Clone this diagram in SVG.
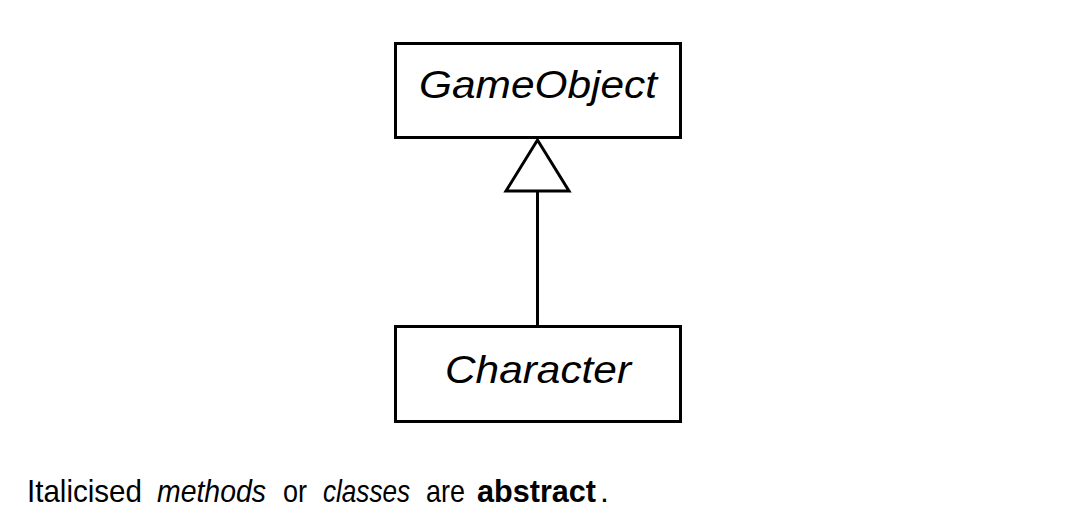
<svg xmlns="http://www.w3.org/2000/svg" width="1072" height="522" viewBox="0 0 1072 522">
<style>
.box{fill:#fff;stroke:#000;stroke-width:3}
.lbl{font-family:"Liberation Sans",Arial,sans-serif;font-size:39px;font-style:italic;fill:#000}
.note{font-family:"Liberation Sans",Arial,sans-serif;font-size:32px;fill:#000}
.edge{stroke:#000;stroke-width:3;fill:none}
.head{fill:#fff;stroke:#000;stroke-width:3}
</style>
<rect width="1072" height="522" fill="#fff"/>
<g id="connectors">
<line class="edge" x1="537.5" y1="191" x2="537.5" y2="326"/>
<polygon class="head" points="537.5,140 506,191 569,191"/>
</g>
<g id="GameObject">
<rect class="box" x="395.5" y="43.5" width="285" height="94"/>
<text class="lbl" x="419" y="98" textLength="238" lengthAdjust="spacingAndGlyphs">GameObject</text>
</g>
<g id="Character">
<rect class="box" x="395.5" y="326.5" width="285" height="95"/>
<text class="lbl" x="445" y="383" textLength="186" lengthAdjust="spacingAndGlyphs">Character</text>
</g>
<text class="note" y="502"><tspan x="27" textLength="115" lengthAdjust="spacingAndGlyphs">Italicised</tspan><tspan x="157" font-style="italic" textLength="109" lengthAdjust="spacingAndGlyphs">methods</tspan><tspan x="283" textLength="24" lengthAdjust="spacingAndGlyphs">or</tspan><tspan x="323" font-style="italic" textLength="87" lengthAdjust="spacingAndGlyphs">classes</tspan><tspan x="426" textLength="39" lengthAdjust="spacingAndGlyphs">are</tspan><tspan x="477" font-weight="bold" textLength="119" lengthAdjust="spacingAndGlyphs">abstract</tspan><tspan x="600">.</tspan></text>
</svg>
